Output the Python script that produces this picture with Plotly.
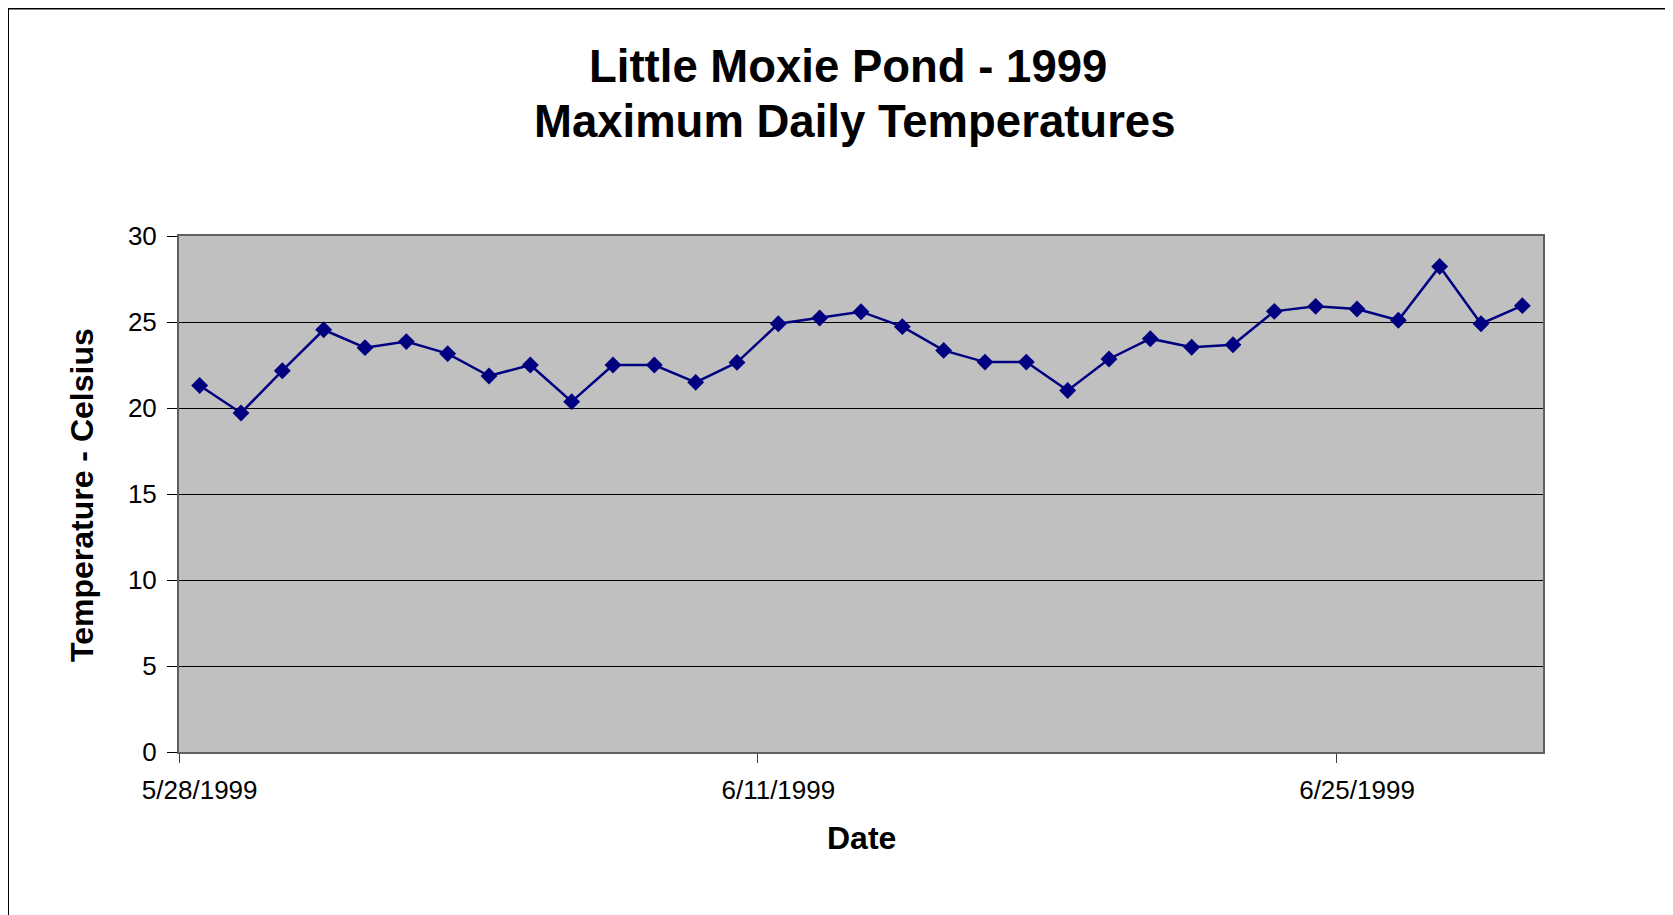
import plotly.graph_objects as go

# ---- data ----
dates = [
    "1999-05-28", "1999-05-29", "1999-05-30", "1999-05-31", "1999-06-01",
    "1999-06-02", "1999-06-03", "1999-06-04", "1999-06-05", "1999-06-06",
    "1999-06-07", "1999-06-08", "1999-06-09", "1999-06-10", "1999-06-11",
    "1999-06-12", "1999-06-13", "1999-06-14", "1999-06-15", "1999-06-16",
    "1999-06-17", "1999-06-18", "1999-06-19", "1999-06-20", "1999-06-21",
    "1999-06-22", "1999-06-23", "1999-06-24", "1999-06-25", "1999-06-26",
    "1999-06-27", "1999-06-28", "1999-06-29",
]
max_temp_c = [
    21.31, 19.71, 22.17, 24.55, 23.51, 23.86, 23.16, 21.86, 22.50, 20.37,
    22.50, 22.50, 21.49, 22.65, 24.90, 25.23, 25.60, 24.73, 23.35, 22.67,
    22.67, 21.02, 22.85, 24.03, 23.53, 23.68, 25.62, 25.91, 25.76, 25.10,
    28.23, 24.90, 25.95,
]
x_tick_vals = ["1999-05-28", "1999-06-11", "1999-06-25"]
x_tick_text = ["5/28/1999", "6/11/1999", "6/25/1999"]
y_tick_vals = [0, 5, 10, 15, 20, 25, 30]

title_lines = ["Little Moxie Pond - 1999", "Maximum Daily Temperatures"]
x_title = "Date"
y_title = "Temperature - Celsius"

# ---- layout geometry (figure pixels; page has an 8px body offset) ----
W, H = 1673, 915
L, R, T, B = 171, 1535, 228, 744
pw, ph = R - L, B - T

FONT = "Arial, Liberation Sans, Helvetica, sans-serif"

fig = go.Figure()
fig.add_trace(go.Scatter(
    x=dates, y=max_temp_c, mode="lines+markers",
    line=dict(color="#000080", width=2.5),
    marker=dict(symbol="diamond", size=13, color="#000080",
                line=dict(color="#000080", width=0)),
    showlegend=False, hoverinfo="x+y",
))

fig.update_layout(
    width=W, height=H,
    margin=dict(l=L, r=W - R, t=T, b=H - B, pad=0),
    paper_bgcolor="white",
    plot_bgcolor="#C0C0C0",
    font=dict(family=FONT, color="black"),
    showlegend=False,
)

fig.update_xaxes(
    type="date",
    range=["1999-05-27 12:00", "1999-06-29 12:00"],
    tickmode="array", tickvals=x_tick_vals, ticktext=x_tick_text,
    ticks="outside", ticklen=9, tickcolor="rgba(0,0,0,0)",
    ticklabelstandoff=5,
    tickfont=dict(size=26, family=FONT, color="black"),
    minor=dict(ticks="outside", ticklen=9, tickcolor="#404040", tickwidth=1,
               tick0="1999-05-27 12:00", dtick=14 * 86400000, showgrid=False),
    showgrid=False, zeroline=False,
    showline=True, linecolor="#606060", linewidth=2, mirror=True,
)
fig.update_yaxes(
    range=[0, 30], tickmode="array", tickvals=y_tick_vals,
    ticks="outside", ticklen=10, tickcolor="black", tickwidth=1,
    ticklabelstandoff=5,
    tickfont=dict(size=26, family=FONT, color="black"),
    showgrid=True, gridcolor="black", gridwidth=1,
    zeroline=False,
    showline=True, linecolor="#606060", linewidth=2, mirror=True,
)

# chart title (two bold lines)
title_centers = [(840, 58), (846, 113)]
for line, (cx, cy) in zip(title_lines, title_centers):
    fig.add_annotation(text="<b>%s</b>" % line,
                       xref="paper", yref="paper",
                       x=(cx - L) / pw, y=1 + (T - cy) / ph,
                       xanchor="center", yanchor="middle", align="center",
                       showarrow=False,
                       font=dict(size=45.5, family=FONT, color="black"))

# axis titles
fig.add_annotation(text="<b>" + x_title + "</b>", xref="paper", yref="paper",
                   x=0.5, y=-(830 - B) / ph, xanchor="center", yanchor="middle",
                   showarrow=False, font=dict(size=32, family=FONT, color="black"))
fig.add_annotation(text="<b>" + y_title + "</b>", xref="paper", yref="paper",
                   x=(74 - L) / pw, y=0.5 - (487 - (T + B) / 2) / ph,
                   xanchor="center", yanchor="middle", textangle=-90,
                   showarrow=False, font=dict(size=32, family=FONT, color="black"))

# outer chart border (extends past right/bottom edge like the reference)
fig.add_shape(type="rect", xref="paper", yref="paper",
              x0=(0 - L) / pw, x1=(W + 20 - L) / pw,
              y0=-(H + 20 - B) / ph, y1=1 + (T - 0.5) / ph,
              line=dict(color="black", width=2), fillcolor="rgba(0,0,0,0)",
              layer="below")

fig.write_html("out.html")
